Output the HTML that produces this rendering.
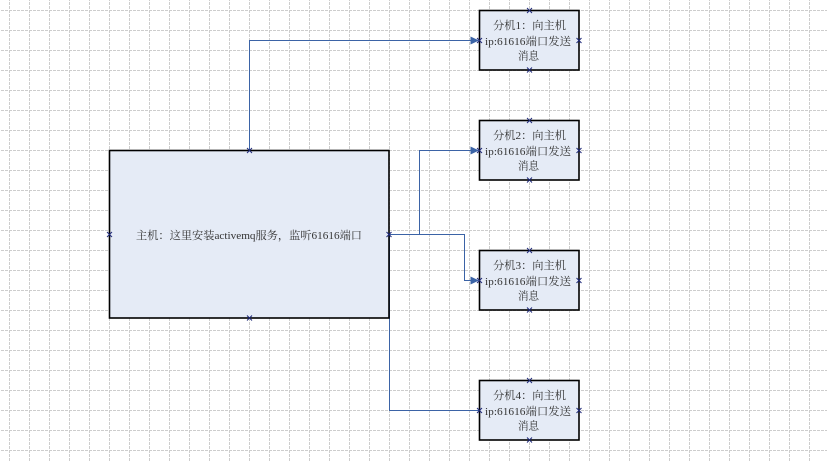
<!DOCTYPE html>
<html>
<head>
<meta charset="utf-8">
<style>
  html, body { margin: 0; padding: 0; background: #ffffff; }
  body { width: 827px; height: 462px; overflow: hidden; }
  svg { display: block; }
  .t { font-family: "Liberation Serif", "Noto Serif CJK SC", "Noto Sans CJK SC", serif; font-size: 11px; fill: #333333; }
</style>
</head>
<body>
<svg width="827" height="462" viewBox="0 0 827 462" xmlns="http://www.w3.org/2000/svg">
  <defs>
    <pattern id="grid" x="9" y="10" width="20" height="20" patternUnits="userSpaceOnUse">
      <line x1="0.5" y1="0" x2="0.5" y2="20" stroke="#cdcdcd" stroke-width="1" stroke-dasharray="3,1"/>
      <line x1="0" y1="0.5" x2="20" y2="0.5" stroke="#cdcdcd" stroke-width="1" stroke-dasharray="3,1"/>
    </pattern>
    <g id="xm">
      <line x1="-2.5" y1="-2.5" x2="2.5" y2="2.5" stroke="#1f2a7a" stroke-width="1"/>
      <line x1="-2.5" y1="2.5" x2="2.5" y2="-2.5" stroke="#1f2a7a" stroke-width="1"/>
    </g>
  </defs>

  <rect x="0" y="0" width="827" height="462" fill="#ffffff"/>
  <rect x="0" y="0" width="827" height="462" fill="url(#grid)"/>

  <!-- connectors -->
  <g fill="none" stroke="#3b63a6" stroke-width="1">
    <polyline points="249.5,150 249.5,40.5 472,40.5"/>
    <polyline points="389,234.5 419.5,234.5 419.5,150.5 472,150.5"/>
    <polyline points="389,234.5 464.5,234.5 464.5,280.5 472,280.5"/>
    <polyline points="389.5,234.5 389.5,410.5 479,410.5"/>
  </g>
  <g fill="#3b63a6">
    <polygon points="470.5,36.5 479,40.5 470.5,44.5"/>
    <polygon points="470.5,146.5 479,150.5 470.5,154.5"/>
    <polygon points="470.5,276.5 479,280.5 470.5,284.5"/>
  </g>

  <!-- main box -->
  <rect x="109.5" y="150.5" width="279.5" height="167.5" fill="#e5ebf6" stroke="#000000" stroke-width="1.6"/>
  <text class="t" x="136" y="239" textLength="226" lengthAdjust="spacingAndGlyphs">主机：这里安装activemq服务，监听61616端口</text>

  <!-- small boxes -->
  <g>
    <rect x="479.5" y="10.5" width="99.5" height="59.5" fill="#e5ebf6" stroke="#000000" stroke-width="1.6"/>
    <text class="t" x="493" y="29" textLength="73" lengthAdjust="spacingAndGlyphs">分机1：向主机</text>
    <text class="t" x="485" y="45" textLength="86" lengthAdjust="spacingAndGlyphs">ip:61616端口发送</text>
    <text class="t" x="518" y="59.5" textLength="21" lengthAdjust="spacingAndGlyphs">消息</text>
  </g>
  <g>
    <rect x="479.5" y="120.5" width="99.5" height="59.5" fill="#e5ebf6" stroke="#000000" stroke-width="1.6"/>
    <text class="t" x="493" y="139" textLength="73" lengthAdjust="spacingAndGlyphs">分机2：向主机</text>
    <text class="t" x="485" y="155" textLength="86" lengthAdjust="spacingAndGlyphs">ip:61616端口发送</text>
    <text class="t" x="518" y="169.5" textLength="21" lengthAdjust="spacingAndGlyphs">消息</text>
  </g>
  <g>
    <rect x="479.5" y="250.5" width="99.5" height="59.5" fill="#e5ebf6" stroke="#000000" stroke-width="1.6"/>
    <text class="t" x="493" y="269" textLength="73" lengthAdjust="spacingAndGlyphs">分机3：向主机</text>
    <text class="t" x="485" y="285" textLength="86" lengthAdjust="spacingAndGlyphs">ip:61616端口发送</text>
    <text class="t" x="518" y="299.5" textLength="21" lengthAdjust="spacingAndGlyphs">消息</text>
  </g>
  <g>
    <rect x="479.5" y="380.5" width="99.5" height="59.5" fill="#e5ebf6" stroke="#000000" stroke-width="1.6"/>
    <text class="t" x="493" y="399" textLength="73" lengthAdjust="spacingAndGlyphs">分机4：向主机</text>
    <text class="t" x="485" y="415" textLength="86" lengthAdjust="spacingAndGlyphs">ip:61616端口发送</text>
    <text class="t" x="518" y="429.5" textLength="21" lengthAdjust="spacingAndGlyphs">消息</text>
  </g>

  <!-- connection point markers -->
  <use href="#xm" x="249.5" y="150.5"/>
  <use href="#xm" x="249.5" y="318"/>
  <use href="#xm" x="109.5" y="234.5"/>
  <use href="#xm" x="389" y="234.5"/>

  <use href="#xm" x="529.5" y="10.5"/>
  <use href="#xm" x="529.5" y="70"/>
  <use href="#xm" x="479.5" y="40.5"/>
  <use href="#xm" x="579" y="40.5"/>

  <use href="#xm" x="529.5" y="120.5"/>
  <use href="#xm" x="529.5" y="180"/>
  <use href="#xm" x="479.5" y="150.5"/>
  <use href="#xm" x="579" y="150.5"/>

  <use href="#xm" x="529.5" y="250.5"/>
  <use href="#xm" x="529.5" y="310"/>
  <use href="#xm" x="479.5" y="280.5"/>
  <use href="#xm" x="579" y="280.5"/>

  <use href="#xm" x="529.5" y="380.5"/>
  <use href="#xm" x="529.5" y="440"/>
  <use href="#xm" x="479.5" y="410.5"/>
  <use href="#xm" x="579" y="410.5"/>
</svg>
</body>
</html>
